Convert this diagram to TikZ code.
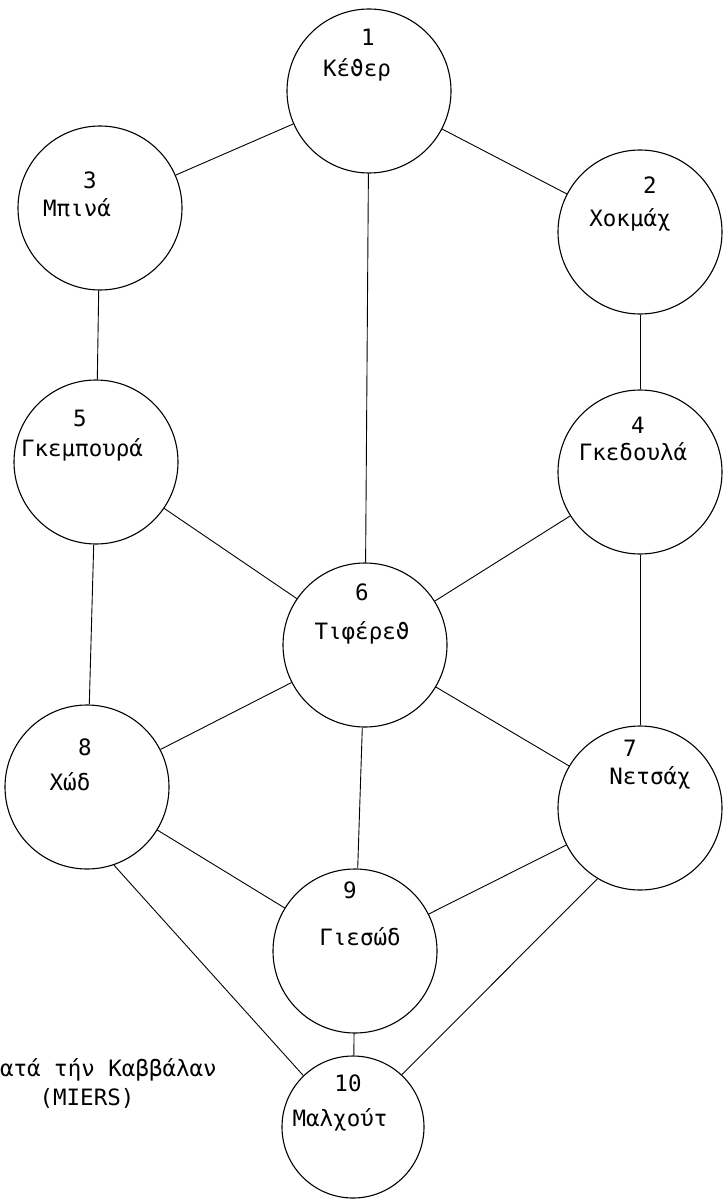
\documentclass[tikz,border=0pt]{standalone}
\usepackage{fontspec}
\newfontfamily\tw{DejaVu Sans Mono}
\begin{document}
\begin{tikzpicture}[x=1pt,y=-1pt,
  sef/.style={circle,draw,line width=1.1pt,minimum size=164pt,inner sep=0pt},
  lbl/.style={font=\tw\fontsize{22.5}{26}\selectfont,inner sep=0pt},
  link/.style={line width=0.9pt}]
\useasboundingbox (0,0) rectangle (723,1201);
\clip (0,0) rectangle (723,1201);
% circles
\node[sef] (c1) at (369,91) {};
\node[sef] (c2) at (640,232) {};
\node[sef] (c3) at (100,208) {};
\node[sef] (c4) at (640,472) {};
\node[sef] (c5) at (96,462) {};
\node[sef] (c6) at (365,645) {};
\node[sef] (c7) at (640,808) {};
\node[sef] (c8) at (87,787) {};
\node[sef] (c9) at (355,951) {};
\node[sef,minimum size=142pt] (c10) at (353,1127) {};
% labels
\node[lbl] (n1) at (368,37) {1};
\node[lbl] (t1) at (357,70) {Κέϑερ};
\node[lbl] (n2) at (650,185) {2};
\node[lbl] (t2) at (630,220) {Χοκμάχ};
\node[lbl] (n3) at (90,180) {3};
\node[lbl] (t3) at (77,208) {Μπινά};
\node[lbl] (n4) at (638,425) {4};
\node[lbl] (t4) at (633,452) {Γκεδουλά};
\node[lbl] (n5) at (80,418) {5};
\node[lbl] (t5) at (82,450) {Γκεμπουρά};
\node[lbl] (n6) at (362,592) {6};
\node[lbl] (t6) at (362,633) {Τιφέρεϑ};
\node[lbl] (n7) at (630,748) {7};
\node[lbl] (t7) at (650,778) {Νετσάχ};
\node[lbl] (n8) at (85,747) {8};
\node[lbl] (t8) at (70,782) {Χώδ};
\node[lbl] (n9) at (350,890) {9};
\node[lbl] (t9) at (360,937) {Γιεσώδ};
\node[lbl] (n10) at (348,1083) {10};
\node[lbl] (t10) at (340,1120) {Μαλχούτ};
% caption
\node[lbl,anchor=east] (cap1) at (217,1070) {κατά τήν Καββάλαν};
\node[lbl] (cap2) at (87,1098) {(MIERS)};
% connectors
\draw[link] (c1) -- (c3);
\draw[link] (c1) -- (c2);
\draw[link] (c1) -- (c6);
\draw[link] (c3) -- (c5);
\draw[link] (c2) -- (c4);
\draw[link] (c5) -- (c6);
\draw[link] (c4) -- (c6);
\draw[link] (c5) -- (c8);
\draw[link] (c4) -- (c7);
\draw[link] (c6) -- (c8);
\draw[link] (c6) -- (c7);
\draw[link] (c6) -- (c9);
\draw[link] (c8) -- (c9);
\draw[link] (c7) -- (c9);
\draw[link] (c8.-71) -- (c10.134);
\draw[link] (c7.-121) -- (c10.47);
\draw[link] (c9) -- (c10);
\end{tikzpicture}
\end{document}
